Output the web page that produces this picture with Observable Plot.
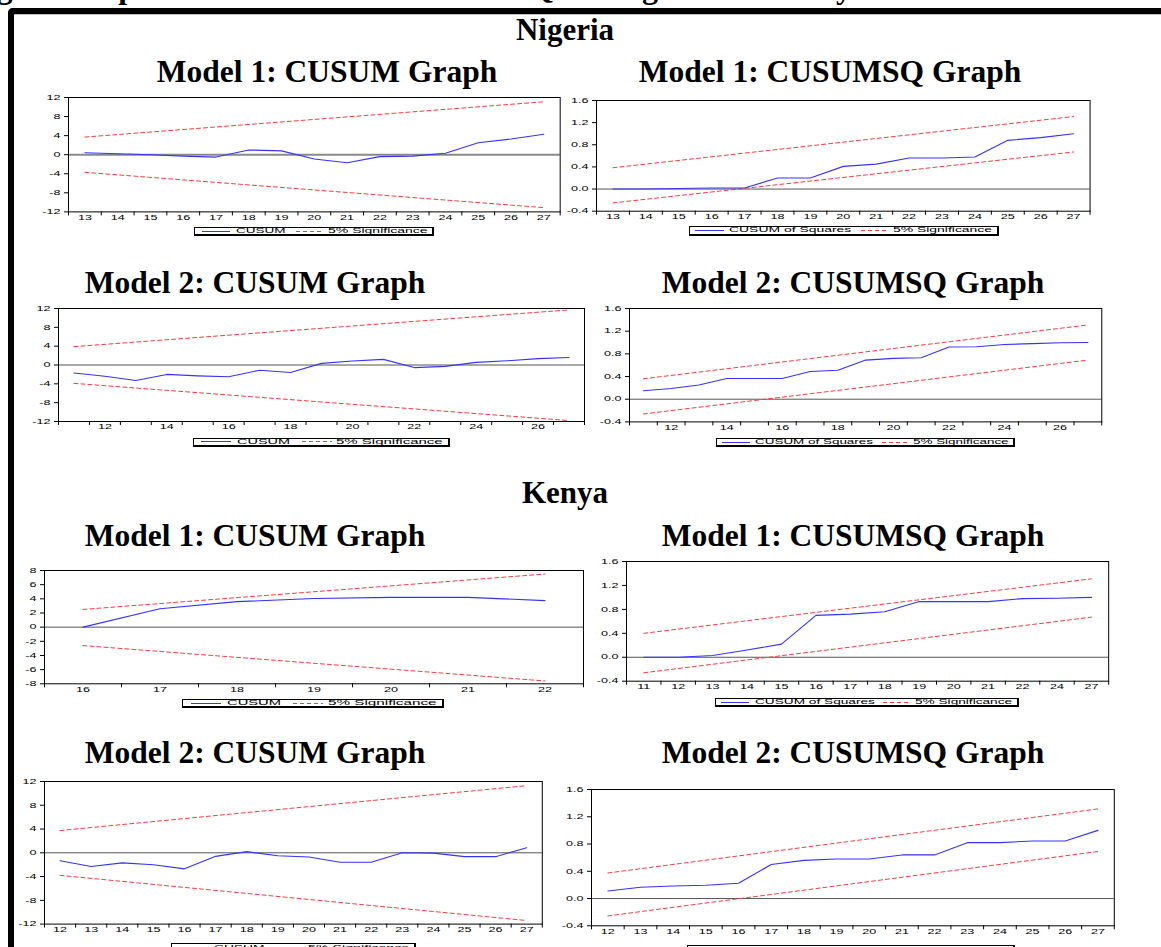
<!DOCTYPE html>
<html><head><meta charset="utf-8">
<script src="https://cdn.jsdelivr.net/npm/d3@7"></script>
<script src="https://cdn.jsdelivr.net/npm/@observablehq/plot@0.6"></script>
<style>
html,body{margin:0;padding:0;background:#fff;overflow:hidden}
#root{position:relative;width:1161px;height:947px;overflow:hidden;background:#fff}
.title{position:absolute;font-family:"Liberation Serif","Times New Roman",serif;font-weight:bold;white-space:nowrap;line-height:1;color:#000;transform:translateX(-50%)}
.legend{position:absolute;border:1px solid #000;border-right-width:2px;border-bottom-width:2px;box-sizing:border-box;background:#fff}
.legend .sw{position:absolute;top:calc(50% - 0.5px);height:1px}
.legend .tx{position:absolute;top:50%;font-family:"Liberation Sans",Arial,sans-serif;font-size:7.5px;line-height:1;white-space:nowrap;transform-origin:0 50%;color:#000}
.panel{position:absolute}
</style></head><body><div id="root"></div><script>
// ---------- data ----------
// Nigeria, Model 1
const ngM1Obs = [13,14,15,16,17,18,19,20,21,22,23,24,25,26,27];
const ngM1Cusum = [0.4,0.2,0.0,-0.3,-0.5,1.0,0.8,-0.9,-1.7,-0.4,-0.3,0.3,2.5,3.3,4.3];
const ngM1CusumUpper = [3.7, 11.1];
const ngM1CusumLower = [-3.7, -11.1];
const ngM1Sq = [0.0,0.0,0.01,0.02,0.02,0.2,0.2,0.41,0.45,0.56,0.56,0.58,0.88,0.93,1.0];
const ngM1SqUpper = [0.385, 1.31];
const ngM1SqLower = [-0.25, 0.67];
// Nigeria, Model 2
const ngM2Obs = [11,12,13,14,15,16,17,18,19,20,21,22,23,24,25,26,27];
const ngM2Cusum = [-1.7,-2.4,-3.3,-2.0,-2.3,-2.5,-1.1,-1.6,0.35,0.85,1.2,-0.55,-0.3,0.55,0.9,1.35,1.6];
const ngM2CusumUpper = [3.9, 11.7];
const ngM2CusumLower = [-3.9, -11.8];
const ngM2Sq = [0.15,0.19,0.25,0.365,0.365,0.365,0.49,0.51,0.69,0.72,0.73,0.92,0.925,0.965,0.98,0.995,1.0];
const ngM2SqUpper = [0.36, 1.31];
const ngM2SqLower = [-0.26, 0.69];
// Kenya, Model 1
const keM1Obs = [16,17,18,19,20,21,22];
const keM1Cusum = [0.0,2.6,3.6,4.05,4.2,4.2,3.75];
const keM1CusumUpper = [2.5, 7.5];
const keM1CusumLower = [-2.6, -7.6];
const keM1SqLabels = ["11","12","13","14","15","16","17","18","19","20","21","22","24","27"];
const keM1Sq = [0.0,0.0,0.03,0.12,0.22,0.70,0.72,0.76,0.93,0.93,0.93,0.98,0.985,1.0];
const keM1SqUpper = [0.40, 1.31];
const keM1SqLower = [-0.26, 0.67];
// Kenya, Model 2
const keM2Obs = [12,13,14,15,16,17,18,19,20,21,22,23,24,25,26,27];
const keM2Cusum = [-1.35,-2.3,-1.7,-2.0,-2.7,-0.6,0.2,-0.5,-0.7,-1.6,-1.6,0.0,-0.05,-0.65,-0.65,0.85];
const keM2CusumUpper = [3.75, 11.3];
const keM2CusumLower = [-3.8, -11.4];
const keM2Sq = [0.11,0.165,0.185,0.195,0.225,0.50,0.56,0.58,0.58,0.64,0.64,0.82,0.82,0.845,0.845,1.0];
const keM2SqUpper = [0.375, 1.315];
const keM2SqLower = [-0.255, 0.69];
// tick labels
const ticksCusum12 = [-12,-8,-4,0,4,8,12];
const ticksCusum8 = [-8,-6,-4,-2,0,2,4,6,8];
const ticksSq = [-0.4,0.0,0.4,0.8,1.2,1.6];
const ngM1XLabels = [13,14,15,16,17,18,19,20,21,22,23,24,25,26,27];
const ngM2XLabels = [12,14,16,18,20,22,24,26];
const keM1XLabels = [16,17,18,19,20,21,22];
const keM2XLabels = [12,13,14,15,16,17,18,19,20,21,22,23,24,25,26,27];
const legendCusum = ["CUSUM", "5% Significance"];
const legendSq = ["CUSUM of Squares", "5% Significance"];
const captionText = "Fig. 4: Graphs of CUSUM and CUSUMSQ for Nigeria and Kenya";

// ---------- styling ----------
const BLUE = "#3434ff", RED = "#ff3a3a";
const SX = 1.8;
const root = document.getElementById("root");

function addDiv(cls, css, text) {
  const d = document.createElement("div");
  if (cls) d.className = cls;
  Object.assign(d.style, css);
  if (text != null) d.textContent = text;
  root.appendChild(d);
  return d;
}

// caption (cut off at top) and border
addDiv(null, {position:"absolute", left:"-32px", top:"-29px", fontFamily:'"Liberation Serif","Times New Roman",serif',
  fontWeight:"bold", fontSize:"32px", lineHeight:"32px", whiteSpace:"nowrap"}, captionText);
addDiv(null, {position:"absolute", left:"8px", top:"8px", width:"1200px", height:"1000px",
  borderLeft:"6px solid #000", borderTop:"6px solid #000", borderTopLeftRadius:"5px", boxSizing:"border-box"});
addDiv(null, {position:"absolute", left:"14px", top:"14px", width:"1200px", height:"1px", background:"#bdbdbd"});

function title(text, cx, baseline, size) {
  addDiv("title", {left: cx + "px", top: (baseline - 0.8375 * size) + "px", fontSize: size + "px"}, text);
}
title("Nigeria", 565, 40, 31);
title("Model 1: CUSUM Graph", 327, 82, 31.5);
title("Model 1: CUSUMSQ Graph", 830, 82, 31.5);
title("Model 2: CUSUM Graph", 255, 293, 31.5);
title("Model 2: CUSUMSQ Graph", 853, 293, 31.5);
title("Kenya", 565, 503, 31);
title("Model 1: CUSUM Graph", 255, 546, 31.5);
title("Model 1: CUSUMSQ Graph", 853, 546, 31.5);
title("Model 2: CUSUM Graph", 255, 763, 31.5);
title("Model 2: CUSUMSQ Graph", 853, 763, 31.5);

const intFmt = d => String(d);
const sqFmt = d => d.toFixed(1);

function panel(cfg) {
  const mL = 40, mR = 6, mT = 6, mB = 16;
  const [fx0, fx1, fy0, fy1] = cfg.frame;
  const w = fx1 - fx0, h = fy1 - fy0;
  const data = cfg.xs.map((x, i) => ({x, v: cfg.values[i]}));
  const n = cfg.xs.length;
  const up = [{x: cfg.xs[0], v: cfg.upper[0]}, {x: cfg.xs[n - 1], v: cfg.upper[1]}];
  const lo = [{x: cfg.xs[0], v: cfg.lower[0]}, {x: cfg.xs[n - 1], v: cfg.lower[1]}];
  const marks = d3.range(cfg.xDomain[0], cfg.xDomain[1] + 0.001, 1);
  const svg = Plot.plot({
    width: w + mL + mR, height: h + mT + mB,
    marginLeft: mL, marginRight: mR, marginTop: mT, marginBottom: mB,
    x: {domain: cfg.xDomain, label: null},
    y: {domain: cfg.yDomain, label: null},
    style: {background: "transparent", fontFamily: '"Liberation Sans", Arial, sans-serif', fontSize: "7px", overflow: "visible", color: "#000"},
    marks: [
      Plot.ruleY([0], {stroke: cfg.zeroColor || "#555", strokeWidth: cfg.zeroWidth || 1}),
      Plot.line(up, {x: "x", y: "v", stroke: RED, strokeWidth: 1, strokeDasharray: "4,3"}),
      Plot.line(lo, {x: "x", y: "v", stroke: RED, strokeWidth: 1, strokeDasharray: "4,3"}),
      Plot.line(data, {x: "x", y: "v", stroke: BLUE, strokeWidth: 1.1}),
      Plot.frame({stroke: "#000", strokeWidth: 1}),
      Plot.axisY({ticks: cfg.yTicks, tickFormat: cfg.yFmt, tickSize: 4, tickPadding: 4, label: null}),
      Plot.axisX({ticks: cfg.xLabels, tickFormat: cfg.xFmt || intFmt, tickSize: 0, tickPadding: 3, label: null}),
      Plot.axisX({ticks: marks, tickFormat: () => "", tickSize: 4, label: null})
    ]
  });
  svg.querySelectorAll("text").forEach(t => {
    const tr = t.getAttribute("transform");
    if (tr) t.setAttribute("transform", tr + ` scale(${SX},1)`);
  });
  const holder = document.createElement("div");
  holder.className = "panel";
  holder.style.left = (fx0 - mL) + "px";
  holder.style.top = (fy0 - mT) + "px";
  holder.appendChild(svg);
  root.appendChild(holder);
}

function legend(box, labels) {
  const [x0, x1, y0, y1] = box;
  const d = addDiv("legend", {left: x0 + "px", top: y0 + "px", width: (x1 - x0) + "px", height: (y1 - y0) + "px"});
  const W = x1 - x0;
  const fr = labels[0].length > 6
    ? [[0.016, 0.109], [0.127, 0.522], [0.551, 0.643], [0.657, 0.977]]
    : [[0.03, 0.147], [0.17, 0.376], [0.42, 0.536], [0.554, 0.968]];
  const sw = (f, bg) => {
    const s = document.createElement("div");
    s.className = "sw";
    Object.assign(s.style, {left: (f[0] * W) + "px", width: ((f[1] - f[0]) * W) + "px", background: bg});
    d.appendChild(s);
  };
  const tx = (f, text) => {
    const s = document.createElement("span");
    s.className = "tx";
    s.textContent = text;
    s.style.left = (f[0] * W) + "px";
    d.appendChild(s);
    const nat = s.getBoundingClientRect().width || 1;
    s.style.transform = `translateY(-50%) scaleX(${((f[1] - f[0]) * W) / nat})`;
  };
  sw(fr[0], BLUE);
  tx(fr[1], labels[0]);
  sw(fr[2], `repeating-linear-gradient(to right, ${RED} 0 4px, transparent 4px 7px)`);
  tx(fr[3], labels[1]);
}

panel({frame: [67.7, 559.4, 97.3, 211.7], xs: ngM1Obs, values: ngM1Cusum, upper: ngM1CusumUpper, lower: ngM1CusumLower,
  xDomain: [12.5, 27.5], yDomain: [-12, 12], yTicks: ticksCusum12, yFmt: intFmt, xLabels: ngM1XLabels, zeroColor: "#8a8a8a", zeroWidth: 2});
panel({frame: [596.4, 1090, 100, 210.7], xs: ngM1Obs, values: ngM1Sq, upper: ngM1SqUpper, lower: ngM1SqLower,
  xDomain: [12.5, 27.5], yDomain: [-0.4, 1.6], yTicks: ticksSq, yFmt: sqFmt, xLabels: ngM1XLabels});
panel({frame: [58.3, 584.3, 308.3, 421.3], xs: ngM2Obs, values: ngM2Cusum, upper: ngM2CusumUpper, lower: ngM2CusumLower,
  xDomain: [10.5, 27.5], yDomain: [-12, 12], yTicks: ticksCusum12, yFmt: intFmt, xLabels: ngM2XLabels});
panel({frame: [629.2, 1101.5, 308.3, 421.7], xs: ngM2Obs, values: ngM2Sq, upper: ngM2SqUpper, lower: ngM2SqLower,
  xDomain: [10.5, 27.5], yDomain: [-0.4, 1.6], yTicks: ticksSq, yFmt: sqFmt, xLabels: ngM2XLabels});
panel({frame: [44, 583, 569.7, 683], xs: keM1Obs, values: keM1Cusum, upper: keM1CusumUpper, lower: keM1CusumLower,
  xDomain: [15.5, 22.5], yDomain: [-8, 8], yTicks: ticksCusum8, yFmt: intFmt, xLabels: keM1XLabels});
panel({frame: [625.8, 1108, 561, 680.7], xs: keM1SqLabels.map((_, i) => i), values: keM1Sq, upper: keM1SqUpper, lower: keM1SqLower,
  xDomain: [-0.5, keM1SqLabels.length - 0.5], yDomain: [-0.4, 1.6], yTicks: ticksSq, yFmt: sqFmt,
  xLabels: keM1SqLabels.map((_, i) => i), xFmt: i => keM1SqLabels[i]});
panel({frame: [44, 541.8, 780.7, 923.3], xs: keM2Obs, values: keM2Cusum, upper: keM2CusumUpper, lower: keM2CusumLower,
  xDomain: [11.5, 27.5], yDomain: [-12, 12], yTicks: ticksCusum12, yFmt: intFmt, xLabels: keM2XLabels});
panel({frame: [590.7, 1113.5, 789, 925.3], xs: keM2Obs, values: keM2Sq, upper: keM2SqUpper, lower: keM2SqLower,
  xDomain: [11.5, 27.5], yDomain: [-0.4, 1.6], yTicks: ticksSq, yFmt: sqFmt, xLabels: keM2XLabels});

legend([193.8, 434.5, 227.3, 236.5], legendCusum);
legend([689, 998.6, 226, 235.5], legendSq);
legend([192.6, 450.3, 437.7, 447], legendCusum);
legend([716, 1014.8, 438, 447], legendSq);
legend([181.7, 444, 699, 708], legendCusum);
legend([715, 1018.5, 698.3, 707.5], legendSq);
legend([171, 415.7, 943.3, 953], legendCusum);
legend([687, 1015, 945, 955], legendSq);
</script></body></html>
